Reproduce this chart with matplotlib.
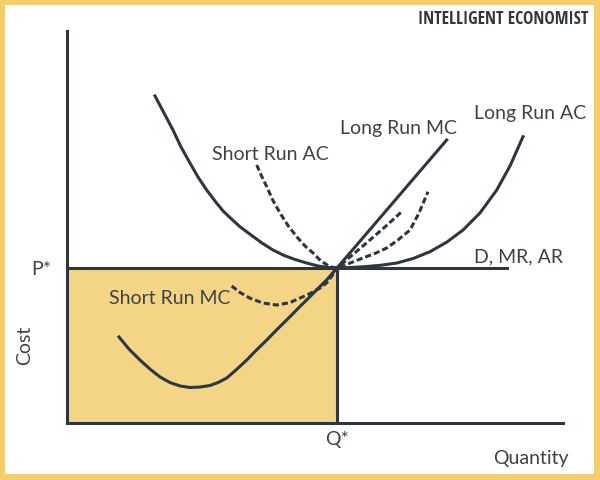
import matplotlib
matplotlib.use('Agg')
import matplotlib.pyplot as plt
from matplotlib.patches import Rectangle

# valores (quantidade, custo); Q* = 10, P* = 10
q_star = 10
p_star = 10

lrac_q = [3.259, 3.593, 3.926, 4.222, 4.556, 4.852, 5.174, 5.481, 5.778, 6.111, 6.407, 6.815,
          7.222, 7.630, 8.037, 8.444, 8.878, 9.296, 9.741, 10.0,
          10.481, 10.963, 11.593, 12.211, 12.815, 13.444, 14.074, 14.667, 15.296, 15.915,
          16.407, 16.889]
lrac_c = [21.10, 20.00, 18.90, 17.81, 16.77, 15.87, 15.03, 14.32, 13.68, 13.13, 12.66, 12.13,
          11.61, 11.16, 10.81, 10.55, 10.32, 10.13, 10.02, 10.0,
          10.03, 10.08, 10.17, 10.32, 10.61, 11.05, 11.68, 12.45, 13.55, 15.03,
          16.58, 18.47]

lrmc_q = [1.926, 2.296, 2.704, 3.074, 3.444, 3.815, 4.185, 4.556, 4.926, 5.296, 5.593, 5.915,
          6.259, 6.656, 7.0, 7.396, 7.815, 8.259, 8.630, 9.0, 9.296, 9.619, 10.0, 14.063]
lrmc_c = [5.55, 4.77, 4.06, 3.48, 2.97, 2.61, 2.39, 2.29, 2.32, 2.42, 2.61, 2.90,
          3.42, 4.06, 4.68, 5.35, 6.10, 6.86, 7.52, 8.15, 8.68, 9.23, 10.0, 18.26]

srac_q = [7.026, 7.204, 7.396, 7.630, 7.889, 8.185, 8.507, 8.815, 9.111, 9.407, 9.741, 10.0,
          10.444, 10.963, 11.407, 11.841, 12.259, 12.704, 13.037, 13.370]
srac_c = [16.65, 15.94, 15.25, 14.35, 13.55, 12.74, 12.02, 11.42, 10.97, 10.45, 10.08, 10.0,
          10.29, 10.65, 10.94, 11.29, 11.81, 12.45, 13.55, 14.92]

srmc_q = [6.100, 6.407, 6.778, 7.259, 7.767, 8.259, 8.630, 9.0, 9.370, 9.630, 9.852, 10.0,
          10.481, 11.222, 11.815, 12.396]
srmc_c = [8.84, 8.42, 8.05, 7.74, 7.61, 7.77, 8.06, 8.35, 8.71, 9.06, 9.58, 10.0,
          10.71, 11.81, 12.71, 13.63]

demand_q = [0, 16.29]
demand_c = [p_star, p_star]

escuro = '#2e3640'
texto = '#3d4248'
amarelo = '#f4d486'
lw = 2.2

fig = plt.figure(figsize=(6, 4.8), dpi=100)
fig.patch.set_facecolor('#f3cd6e')
fig.patches.append(Rectangle((5 / 600, 6 / 480), 589 / 600, 469 / 480,
                             transform=fig.transFigure, facecolor='white',
                             edgecolor='none', zorder=-1))

ax = fig.add_axes([67 / 600, 57 / 480, 496 / 600, 392 / 480])
ax.set_facecolor('none')
ax.set_xlim(0, 18.37)
ax.set_ylim(0, 25.29)

# area sombreada
ax.add_patch(Rectangle((0, 0), q_star, p_star, facecolor=amarelo, edgecolor='none', zorder=1))
ax.plot([q_star, q_star], [0, p_star], color=escuro, lw=lw, zorder=3)
ax.plot(demand_q, demand_c, color=escuro, lw=lw, zorder=3)

# curvas
ax.plot(lrac_q, lrac_c, color=escuro, lw=lw, zorder=4, solid_joinstyle='round')
ax.plot(lrmc_q, lrmc_c, color=escuro, lw=lw, zorder=4, solid_joinstyle='round')
ax.plot(srac_q, srac_c, color=escuro, lw=lw, ls=(0, (2, 1)), zorder=4)
ax.plot(srmc_q, srmc_c, color=escuro, lw=lw, ls=(0, (2, 1)), zorder=4)

fs = 14
fonte = 'Lato'
ax.text(17.15, 19.94, 'Long Run AC', ha='center', va='center', fontsize=fs, color=texto, family=fonte)
ax.text(12.26, 19.03, 'Long Run MC', ha='center', va='center', fontsize=fs, color=texto, family=fonte)
ax.text(7.52, 17.35, 'Short Run AC', ha='center', va='center', fontsize=fs, color=texto, family=fonte)
ax.text(15.07, 10.71, 'D, MR, AR', ha='left', va='center', fontsize=fs, color=texto, family=fonte)
ax.text(3.81, 8.06, 'Short Run MC', ha='center', va='center', fontsize=fs, color=texto, family=fonte)

# eixos
for lado in ['top', 'right']:
    ax.spines[lado].set_visible(False)
for lado in ['left', 'bottom']:
    ax.spines[lado].set_linewidth(lw)
    ax.spines[lado].set_color(escuro)

ax.set_xticks([q_star])
ax.set_xticklabels(['Q*'], fontsize=fs, color=texto, family=fonte)
ax.set_yticks([p_star])
ax.set_yticklabels(['P*'], fontsize=fs, color=texto, family=fonte)
ax.tick_params(length=0)
ax.tick_params(axis='y', pad=11)
ax.tick_params(axis='x', pad=6)

ax.set_ylabel('Cost', fontsize=fs, color=texto, family=fonte)
ax.yaxis.set_label_coords(-0.069, 0.199)
ax.set_xlabel('Quantity', fontsize=fs, color=texto, family=fonte)
ax.xaxis.set_label_coords(0.935, -0.068)

fig.text(588 / 600, 1 - 19 / 480, 'INTELLIGENT ECONOMIST', ha='right', va='center',
         fontsize=12.5, fontweight='bold', fontstretch='condensed', color='#33363b',
         family=['Open Sans Condensed', 'DejaVu Sans'])

fig.savefig('out.png', dpi=100, facecolor=fig.get_facecolor())
